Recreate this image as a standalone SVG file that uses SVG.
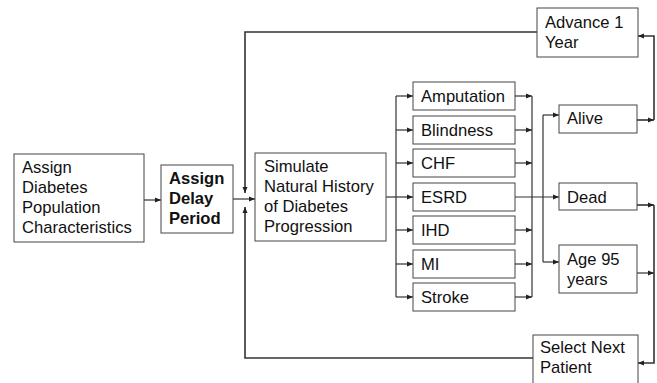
<svg xmlns="http://www.w3.org/2000/svg" width="657" height="383" viewBox="0 0 657 383">
<style>
rect{fill:#fff;stroke:#444;stroke-width:1}
text{font-family:"Liberation Sans",Arial,sans-serif;font-size:16.6px;fill:#111}
.b{font-weight:bold}
.c path{fill:none;stroke:#333;stroke-width:1.2}
.c .t{stroke-width:1.6}
</style>
<defs>
<marker id="a" markerUnits="userSpaceOnUse" markerWidth="7" markerHeight="6" refX="6" refY="3" orient="auto">
<path d="M0,0.5 L6,3 L0,5.5 Z" fill="#222"/>
</marker>
</defs>
<g class="c" id="connectors">
<path d="M144,200 H161" marker-end="url(#a)"/>
<path d="M233,199 H255" marker-end="url(#a)"/>
<path class="t" d="M537,32 H245 V193" marker-end="url(#a)"/>
<path class="t" d="M533,358 H245 V207" marker-end="url(#a)"/>
<path d="M386,197 H396"/>
<path d="M396,96 V297"/>
<path d="M396,96 H413" marker-end="url(#a)"/>
<path d="M396,130 H413" marker-end="url(#a)"/>
<path d="M396,163 H413" marker-end="url(#a)"/>
<path d="M396,197 H413" marker-end="url(#a)"/>
<path d="M396,230 H413" marker-end="url(#a)"/>
<path d="M396,264 H413" marker-end="url(#a)"/>
<path d="M396,297 H413" marker-end="url(#a)"/>
<path d="M532,96 V297"/>
<path d="M515,96 H532" marker-end="url(#a)"/>
<path d="M515,130 H532" marker-end="url(#a)"/>
<path d="M515,163 H532" marker-end="url(#a)"/>
<path d="M515,230 H532" marker-end="url(#a)"/>
<path d="M515,264 H532" marker-end="url(#a)"/>
<path d="M515,297 H532" marker-end="url(#a)"/>
<path d="M515,197 H559" marker-end="url(#a)"/>
<path d="M543,115 V262"/>
<path d="M543,115 H559" marker-end="url(#a)"/>
<path d="M543,262 H559" marker-end="url(#a)"/>
<path class="t" d="M637,120 H654"  marker-end="url(#a)"/>
<path class="t" d="M654,120 V36 H638" marker-end="url(#a)"/>
<path class="t" d="M637,205 H654" marker-end="url(#a)"/>
<path d="M637,273 H654" marker-end="url(#a)"/>
<path class="t" d="M654,205 V363 H638" marker-end="url(#a)"/>
</g>
<g id="n1"><rect x="14" y="154" width="130" height="88"/>
<text x="22" y="173">Assign</text><text x="22" y="193">Diabetes</text><text x="22" y="213">Population</text><text x="22" y="233">Characteristics</text></g>
<g id="n2"><rect x="161" y="165" width="72" height="68"/>
<text class="b" x="169" y="184">Assign</text><text class="b" x="169" y="204">Delay</text><text class="b" x="169" y="224">Period</text></g>
<g id="n3"><rect x="255" y="153" width="131" height="88"/>
<text x="264" y="172">Simulate</text><text x="264" y="192">Natural History</text><text x="264" y="212">of Diabetes</text><text x="264" y="232">Progression</text></g>
<g id="n4"><rect x="413" y="82" width="102" height="28"/><text x="421" y="102">Amputation</text></g>
<g id="n5"><rect x="413" y="116" width="102" height="28"/><text x="421" y="136">Blindness</text></g>
<g id="n6"><rect x="413" y="149" width="102" height="28"/><text x="421" y="169">CHF</text></g>
<g id="n7"><rect x="413" y="183" width="102" height="28"/><text x="421" y="203">ESRD</text></g>
<g id="n8"><rect x="413" y="216" width="102" height="28"/><text x="421" y="236">IHD</text></g>
<g id="n9"><rect x="413" y="250" width="102" height="28"/><text x="421" y="270">MI</text></g>
<g id="n10"><rect x="413" y="283" width="102" height="28"/><text x="421" y="303">Stroke</text></g>
<g id="n11"><rect x="559" y="105" width="78" height="28"/><text x="567" y="124">Alive</text></g>
<g id="n12"><rect x="559" y="183" width="78" height="27"/><text x="567" y="203">Dead</text></g>
<g id="n13"><rect x="559" y="245" width="78" height="48"/><text x="567" y="265">Age 95</text><text x="567" y="285">years</text></g>
<g id="n14"><rect x="537" y="8" width="101" height="49"/><text x="545" y="28">Advance 1</text><text x="545" y="48">Year</text></g>
<g id="n15"><rect x="533" y="335" width="105" height="50"/><text x="540" y="353">Select Next</text><text x="540" y="373">Patient</text></g>
</svg>
